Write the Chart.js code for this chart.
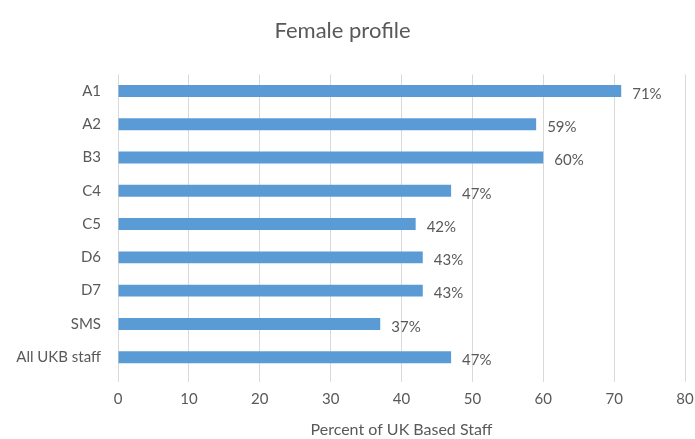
<!DOCTYPE html>
<html>
<head>
<meta charset="utf-8">
<script src="https://cdn.jsdelivr.net/npm/chart.js@4/dist/chart.umd.min.js"></script>
<style>
  html,body{margin:0;padding:0;background:#fff;}
  #wrap{width:695px;height:439px;position:relative;}
</style>
</head>
<body>
<div id="wrap"><canvas id="myChart"></canvas></div>
<script>
var grades=["A1","A2","B3","C4","C5","D6","D7","SMS","All UKB staff"];
var femalePercent=[71,59,60,47,42,43,43,37,47];
var xTicks=[0,10,20,30,40,50,60,70,80];

var textGrey="#595959";
var fontName="Lato, 'Open Sans', sans-serif";

// writes "NN%" just past the end of each bar
var valueLabels={
    id:"valueLabels",
    afterDatasetsDraw:function(chart){
        var ctx=chart.ctx;
        var meta=chart.getDatasetMeta(0);
        ctx.save();
        ctx.fillStyle=textGrey;
        ctx.font="15px "+fontName;
        ctx.textAlign="left";
        ctx.textBaseline="middle";
        meta.data.forEach(function(bar,i){
            ctx.fillText(femalePercent[i]+"%",bar.x+11,bar.y+3);
        });
        ctx.restore();
    }
};

var ctx=document.getElementById("myChart").getContext("2d");
var myChart=new Chart(ctx,{
    type:"bar",
    data:{
        labels:grades,
        datasets:[
            {
                data:femalePercent,
                backgroundColor:"#5b9bd5",
                borderWidth:0,
                barPercentage:0.72,
                categoryPercentage:0.5
            }
        ]
    },
    options:{
        indexAxis:"y",
        responsive:true,
        maintainAspectRatio:false,
        animation:false,
        layout:{padding:{left:0,right:10,top:15,bottom:0}},
        plugins:{
            legend:{display:false},
            tooltip:{enabled:false},
            title:{
                display:true,
                text:"Female profile",
                color:textGrey,
                font:{family:fontName,size:22,weight:"normal"},
                padding:{top:3,bottom:30}
            }
        },
        scales:{
            x:{
                min:0,
                max:80,
                afterBuildTicks:function(scale){
                    scale.ticks=xTicks.map(function(v){return {value:v};});
                },
                // let the "80" label hang into the right margin
                afterFit:function(scale){scale.paddingRight=0;},
                grid:{color:"#d9d9d9",drawTicks:true,tickLength:8,tickColor:"#d9d9d9"},
                border:{display:false},
                ticks:{color:textGrey,font:{family:fontName,size:15},padding:8},
                title:{
                    display:true,
                    text:"Percent of UK Based Staff",
                    color:textGrey,
                    font:{family:fontName,size:16},
                    padding:{top:4,bottom:0}
                }
            },
            y:{
                afterFit:function(scale){scale.width=118;},
                grid:{display:false},
                border:{display:false},
                ticks:{color:textGrey,font:{family:fontName,size:15},padding:9}
            }
        }
    },
    plugins:[valueLabels]
});
</script>
</body>
</html>
